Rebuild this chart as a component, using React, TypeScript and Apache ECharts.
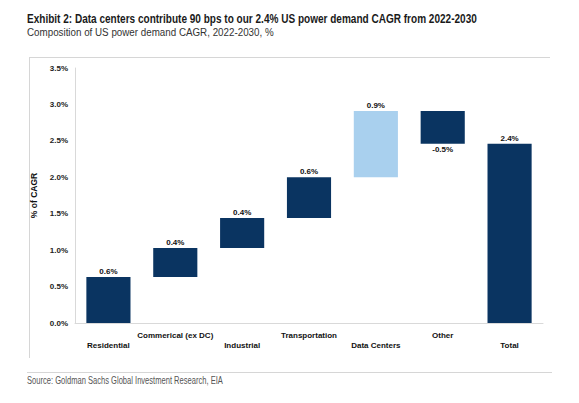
import React, { useEffect, useRef } from "react";
import * as echarts from "echarts";

const categories = [
  "Residential",
  "Commerical (ex DC)",
  "Industrial",
  "Transportation",
  "Data Centers",
  "Other",
  "Total",
];
// contribution of each component (percentage points of CAGR)
const contributions = [0.63, 0.4, 0.41, 0.56, 0.91, -0.45];
const totalValue = 2.46;
const valueLabels = ["0.6%", "0.4%", "0.4%", "0.6%", "0.9%", "-0.5%", "2.4%"];
const highlightCategory = "Data Centers";
const yTicks = [0, 0.5, 1.0, 1.5, 2.0, 2.5, 3.0, 3.5];

const titleText = "Exhibit 2: Data centers contribute 90 bps to our 2.4% US power demand CAGR from 2022-2030";
const subtitleText = "Composition of US power demand CAGR, 2022-2030, %";
const sourceText = "Source: Goldman Sachs Global Investment Research, EIA";

const NAVY = "#0a3461";
const LIGHT = "#a9d0ee";
const FONT = "'Liberation Sans', Arial, sans-serif";

function measure(text: string, font: string): number {
  const c = document.createElement("canvas").getContext("2d");
  if (!c) return 0;
  c.font = font;
  return c.measureText(text).width;
}

function condensedText(text: string, font: string, x: number, y: number, targetWidth: number, fill: string) {
  const w = measure(text, font);
  const s = w > 0 ? targetWidth / w : 0.82;
  return {
    type: "text",
    x,
    y,
    scaleX: s,
    scaleY: 1,
    style: { text, font, fill, align: "left", verticalAlign: "middle" },
  };
}

export default function App() {
  const ref = useRef<HTMLDivElement>(null);

  useEffect(() => {
    if (!ref.current) return;
    const chart = echarts.init(ref.current, undefined, { renderer: "svg" });

    // waterfall: invisible base + visible step
    const bases: number[] = [];
    const steps: number[] = [];
    let running = 0;
    contributions.forEach((c) => {
      const next = running + c;
      bases.push(Math.min(running, next));
      steps.push(Math.abs(c));
      running = next;
    });
    bases.push(0);
    steps.push(totalValue);

    const stepData = steps.map((v, i) => ({
      value: v,
      itemStyle: { color: categories[i] === highlightCategory ? LIGHT : NAVY },
      label: {
        position: i < contributions.length && contributions[i] < 0 ? "bottom" : "top",
      },
    }));

    chart.setOption({
      animation: false,
      graphic: [
        { type: "line", shape: { x1: 29, y1: 5.5, x2: 552, y2: 5.5 }, style: { stroke: "#bdbdbd", lineWidth: 1 } },
        { type: "line", shape: { x1: 29, y1: 57.5, x2: 550, y2: 57.5 }, style: { stroke: "#d6d6d6", lineWidth: 1 } },
        { type: "line", shape: { x1: 29.5, y1: 57, x2: 29.5, y2: 358 }, style: { stroke: "#d6d6d6", lineWidth: 1 } },
        { type: "line", shape: { x1: 27, y1: 372.5, x2: 552, y2: 372.5 }, style: { stroke: "#d6d6d6", lineWidth: 1 } },
        condensedText(titleText, "bold 12.5px 'Liberation Sans', Arial, sans-serif", 27, 19, 450, "#1a1a1a"),
        condensedText(subtitleText, "11.5px 'Liberation Sans', Arial, sans-serif", 27, 32, 247, "#333333"),
        condensedText(sourceText, "10px 'Liberation Sans', Arial, sans-serif", 27, 381, 196, "#555555"),
      ],
      grid: { left: 75, right: 36, top: 68, bottom: 80, containLabel: false },
      xAxis: {
        type: "category",
        data: categories,
        axisLine: { show: true, lineStyle: { color: "#d9d9d9", width: 1 } },
        axisTick: { show: false },
        axisLabel: {
          interval: 0,
          margin: 7,
          fontFamily: FONT,
          fontWeight: "bold",
          fontSize: 8,
          color: "#111",
          lineHeight: 10,
          formatter: (v: string) => {
            const idx = categories.indexOf(v);
            return idx % 2 === 0 ? "\n" + v : v;
          },
        },
      },
      yAxis: {
        type: "value",
        min: yTicks[0],
        max: yTicks[yTicks.length - 1],
        interval: 0.5,
        name: "% of CAGR",
        nameLocation: "middle",
        nameGap: 35,
        nameTextStyle: { fontFamily: FONT, fontWeight: "bold", fontSize: 8.5, color: "#111" },
        axisLine: { show: true, lineStyle: { color: "#d9d9d9", width: 1 } },
        axisTick: { show: false },
        splitLine: { show: false },
        axisLabel: {
          margin: 7,
          fontFamily: FONT,
          fontWeight: "bold",
          fontSize: 8,
          color: "#222",
          formatter: (v: number) => v.toFixed(1) + "%",
        },
      },
      series: [
        {
          type: "bar",
          stack: "wf",
          data: bases,
          barWidth: "66%",
          itemStyle: { color: "transparent" },
          emphasis: { disabled: true },
          silent: true,
        },
        {
          type: "bar",
          stack: "wf",
          data: stepData,
          barWidth: "66%",
          label: {
            show: true,
            distance: 1.5,
            fontFamily: FONT,
            fontWeight: "bold",
            fontSize: 8,
            color: "#111",
            formatter: (p: any) => valueLabels[p.dataIndex],
          },
        },
      ],
    });

    return () => chart.dispose();
  }, []);

  return <div ref={ref} style={{ width: 579, height: 403, margin: -8 }} />;
}
